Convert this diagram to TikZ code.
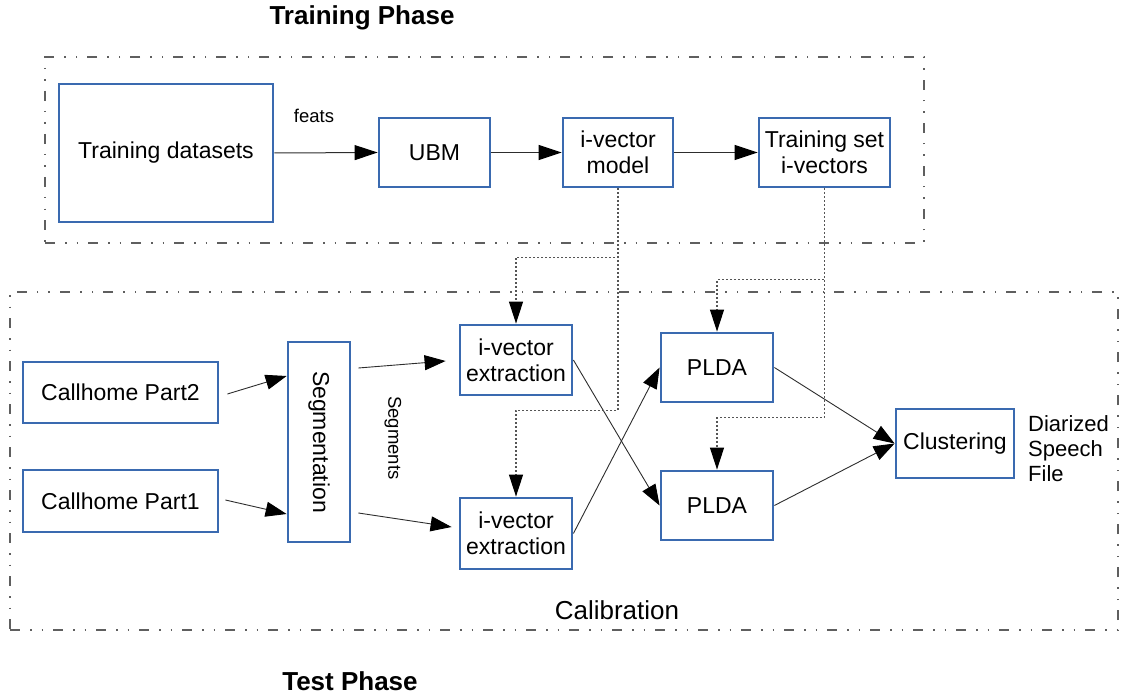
\documentclass[tikz,border=0pt]{standalone}
\usepackage{fontspec}
\setmainfont{Liberation Sans}
\usetikzlibrary{arrows.meta}
\definecolor{boxblue}{RGB}{58,106,176}
\definecolor{linegray}{RGB}{45,45,45}
\definecolor{framegray}{RGB}{95,95,95}
\definecolor{dotgray}{RGB}{85,85,85}
\begin{document}
\begin{tikzpicture}[x=1pt,y=-1pt,
  box/.style={draw=boxblue,line width=2.8pt,fill=white,align=center,inner sep=0pt,
    font=\fontsize{23}{26}\selectfont},
  frame/.style={draw=framegray,line width=1.2pt,
    dash pattern=on 10pt off 10pt on 1.5pt off 10pt on 1.5pt off 10pt,inner sep=0pt},
  conn/.style={draw=linegray,line width=1pt,-{Triangle[length=23pt,width=15pt,color=black]}},
  sconn/.style={draw=linegray,line width=0.9pt,-{Triangle[length=21pt,width=15pt,color=black]}},
  dotconn/.style={draw=dotgray,line width=1.2pt,dash pattern=on 2pt off 2pt,
    -{Triangle[length=22pt,width=14pt,color=black]}},
  lbl/.style={inner sep=0pt,font=\fontsize{18.5}{22}\selectfont},
  phase/.style={inner sep=0pt,font=\fontsize{26}{30}\selectfont\bfseries}
]
\useasboundingbox (0,0) rectangle (1122,695);
% frames
\node[frame,minimum width=879pt,minimum height=186pt] (trainframe) at (484.5,150) {};
\node[frame,minimum width=1108pt,minimum height=338pt] (testframe) at (564,461) {};
% phase titles
\node[phase] (trainphase) at (362,18) {Training Phase};
\node[phase] (testphase) at (350,681) {Test Phase};
\node[inner sep=0pt,font=\fontsize{26}{30}\selectfont] (calib) at (617,610) {Calibration};
% training boxes
\node[box,minimum width=214pt,minimum height=138pt] (td) at (166,153) {Training datasets};
\node[box,minimum width=111pt,minimum height=69pt] (ubm) at (434.5,152.5) {UBM};
\node[box,minimum width=110pt,minimum height=69pt] (ivm) at (618,152.5) {i-vector\\model};
\node[box,minimum width=131pt,minimum height=69pt] (tsi) at (824.5,152.5) {Training set\\i-vectors};
% test boxes
\node[box,minimum width=195pt,minimum height=61pt] (ch2) at (120.5,392.5) {Callhome Part2};
\node[box,minimum width=195pt,minimum height=62pt] (ch1) at (120.5,501) {Callhome Part1};
\node[box,minimum width=62pt,minimum height=200pt] (seg) at (319,442) {\rotatebox{-90}{Segmentation}};
\node[box,minimum width=112pt,minimum height=70pt] (ive1) at (516,360) {i-vector\\extraction};
\node[box,minimum width=112pt,minimum height=71pt] (ive2) at (516,533.5) {i-vector\\extraction};
\node[box,minimum width=112pt,minimum height=69pt] (plda1) at (717,367.5) {PLDA};
\node[box,minimum width=112pt,minimum height=69pt] (plda2) at (717,505.5) {PLDA};
\node[box,minimum width=118pt,minimum height=69pt] (clu) at (955,443.5) {Clustering};
\node[inner sep=0pt,align=left,anchor=west,font=\fontsize{22}{25}\selectfont] (dsf) at (1028,449) {Diarized\\Speech\\File};
% labels
\node[lbl] (feats) at (314,116) {feats};
\node[lbl] (segs) at (393,438) {\rotatebox{-90}{Segments}};
% training connectors
\draw[conn] (td.east) -- (ubm.west);
\draw[conn] (ubm.east) -- (ivm.west);
\draw[conn] (ivm.east) -- (tsi.west);
% test connectors
\draw[sconn] ([xshift=8pt,yshift=-1.5pt]ch2.east) -- ([yshift=66pt]seg.west);
\draw[sconn] ([xshift=6pt,yshift=1pt]ch1.east) -- ([yshift=-72pt]seg.west);
\draw[sconn] ([xshift=7pt,yshift=74pt]seg.east) -- ([xshift=-13pt,yshift=-1pt]ive1.west);
\draw[sconn] ([xshift=7pt,yshift=-71pt]seg.east) -- ([xshift=-7pt,yshift=6.5pt]ive2.west);
\draw[sconn] (ive1.east) -- (plda2.west);
\draw[sconn] (ive2.east) -- (plda1.west);
\draw[sconn] (plda1.east) -- (clu.west);
\draw[sconn] (plda2.east) -- (clu.west);
% dotted connectors
\draw[dotconn] (ivm.south) -- ([yshift=-69pt]ivm.south) -| (ive1.north);
\draw[dotconn] (ivm.south) -- ([yshift=-222pt]ivm.south) -| (ive2.north);
\draw[dotconn] (tsi.south) -- ([yshift=-91pt]tsi.south) -| (plda1.north);
\draw[dotconn] (tsi.south) -- ([yshift=-229pt]tsi.south) -| (plda2.north);
\end{tikzpicture}
\end{document}
